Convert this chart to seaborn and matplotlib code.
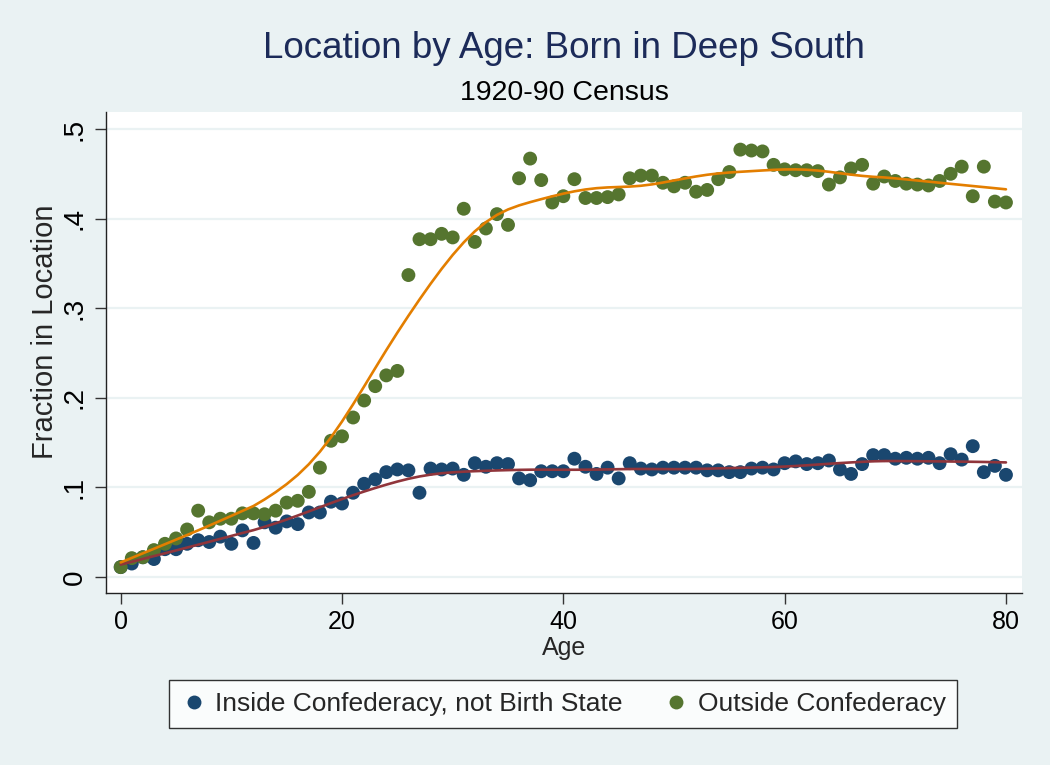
import numpy as np
import pandas as pd
import matplotlib
matplotlib.use("Agg")
import matplotlib.pyplot as plt
import seaborn as sns

ages = list(range(0, 81))
inside_conf = [0.011, 0.015, 0.022, 0.020, 0.031, 0.031, 0.037, 0.041, 0.039, 0.045,
               0.037, 0.052, 0.038, 0.061, 0.055, 0.062, 0.059, 0.072, 0.072, 0.084,
               0.082, 0.094, 0.104, 0.109, 0.117, 0.120, 0.119, 0.094, 0.121, 0.120,
               0.121, 0.114, 0.127, 0.123, 0.127, 0.126, 0.110, 0.108, 0.118, 0.118,
               0.118, 0.132, 0.123, 0.115, 0.122, 0.110, 0.127, 0.121, 0.120, 0.122,
               0.122, 0.122, 0.122, 0.119, 0.119, 0.117, 0.117, 0.121, 0.122, 0.120,
               0.127, 0.129, 0.126, 0.127, 0.130, 0.120, 0.115, 0.126, 0.136, 0.136,
               0.132, 0.133, 0.132, 0.133, 0.127, 0.137, 0.131, 0.146, 0.117, 0.124,
               0.114]
outside_conf = [0.011, 0.021, 0.022, 0.030, 0.037, 0.043, 0.053, 0.074, 0.061, 0.065,
                0.065, 0.071, 0.071, 0.070, 0.074, 0.083, 0.085, 0.095, 0.122, 0.152,
                0.157, 0.178, 0.197, 0.213, 0.225, 0.230, 0.337, 0.377, 0.377, 0.383,
                0.379, 0.411, 0.374, 0.389, 0.405, 0.393, 0.445, 0.467, 0.443, 0.418,
                0.425, 0.444, 0.423, 0.423, 0.424, 0.427, 0.445, 0.448, 0.448, 0.440,
                0.436, 0.440, 0.430, 0.432, 0.444, 0.452, 0.477, 0.476, 0.475, 0.460,
                0.455, 0.454, 0.454, 0.453, 0.438, 0.446, 0.456, 0.460, 0.439, 0.447,
                0.442, 0.439, 0.438, 0.437, 0.442, 0.450, 0.458, 0.425, 0.458, 0.419,
                0.418]
series_names = ["Inside Confederacy, not Birth State", "Outside Confederacy"]
x_ticks = [0, 20, 40, 60, 80]
y_ticks = [0, 0.1, 0.2, 0.3, 0.4, 0.5]
y_ticklabels = ["0", ".1", ".2", ".3", ".4", ".5"]

NAVY = "#1A476F"
MAROON = "#90353B"
GREEN = "#55752F"
ORANGE = "#E37E00"
BG = "#EAF2F3"


def lowess(x, y, frac=0.3):
    x = np.asarray(x, float)
    y = np.asarray(y, float)
    n = len(x)
    k = max(int(np.floor(frac * n)), 3)
    out = np.empty(n)
    for i in range(n):
        d = np.abs(x - x[i])
        h = np.sort(d)[k] * 1.0001
        w = np.clip(1 - (d / h) ** 3, 0, None) ** 3
        W = w.sum()
        xm = (w * x).sum() / W
        ym = (w * y).sum() / W
        sxx = (w * (x - xm) ** 2).sum()
        b = (w * (x - xm) * (y - ym)).sum() / sxx if sxx > 0 else 0
        out[i] = ym + b * (x[i] - xm)
    return out


pts = pd.DataFrame({
    "Age": ages * 2,
    "Fraction": inside_conf + outside_conf,
    "Series": [series_names[0]] * len(ages) + [series_names[1]] * len(ages),
})
fits = pd.DataFrame({
    "Age": ages * 2,
    "Fit": list(lowess(ages, inside_conf)) + list(lowess(ages, outside_conf)),
    "Series": [series_names[0]] * len(ages) + [series_names[1]] * len(ages),
})

sns.set_theme(style="white")
plt.rcParams["font.family"] = ["Liberation Sans", "DejaVu Sans"]

fig = plt.figure(figsize=(10.5, 7.65), dpi=100, facecolor=BG)
ax = fig.add_axes([106 / 1050, 1 - 593 / 765, (1022 - 106) / 1050, (593 - 112) / 765])
ax.set_facecolor("white")

sns.scatterplot(data=pts, x="Age", y="Fraction", hue="Series",
                palette=[NAVY, GREEN], s=100, linewidth=0, ax=ax, zorder=3, legend=True)
sns.lineplot(data=fits, x="Age", y="Fit", hue="Series",
             palette=[MAROON, ORANGE], linewidth=1.9, ax=ax, zorder=4, legend=False)

ax.set_xlim(-1.33, 81.45)
ax.set_ylim(-0.0179, 0.519)
ax.set_xticks(x_ticks)
ax.set_xticklabels([str(t) for t in x_ticks])
ax.set_yticks(y_ticks)
ax.set_yticklabels(y_ticklabels, rotation=90, va="center")
ax.grid(axis="y", color=BG, linewidth=1.6)
ax.grid(axis="x", visible=False)
ax.set_axisbelow(True)
for side in ["top", "right"]:
    ax.spines[side].set_visible(False)
for side in ["left", "bottom"]:
    ax.spines[side].set_color("#222222")
    ax.spines[side].set_linewidth(1.0)
ax.tick_params(axis="x", which="major", direction="out", length=8, width=1,
               color="#333333", labelsize=18, labelcolor="black", pad=4, bottom=True)
ax.tick_params(axis="y", which="major", direction="out", length=8, width=1,
               color="#333333", labelsize=20, labelcolor="black", pad=5, left=True)
ax.set_xlabel("Age", fontsize=18, labelpad=2)
ax.set_ylabel("Fraction in Location", fontsize=21)
ax.yaxis.set_label_coords(-0.051, 0.543)

handles, labels = ax.get_legend_handles_labels()
ax.get_legend().remove()
leg = fig.legend(handles, labels, loc="center", bbox_to_anchor=(563 / 1050, 1 - 704 / 765),
                 ncol=2, frameon=True, fancybox=False, fontsize=19, markerscale=1.0,
                 handletextpad=0.3, columnspacing=1.55, borderpad=0.45, handlelength=1.0)
leg.get_frame().set_edgecolor("black")
leg.get_frame().set_linewidth(1.0)
leg.get_frame().set_facecolor("white")

fig.text(564 / 1050, 1 - 48 / 765, "Location by Age: Born in Deep South",
         ha="center", va="center", fontsize=26.5, color="#1C2B59")
fig.text(564 / 1050, 1 - 93 / 765, "1920-90 Census",
         ha="center", va="center", fontsize=20.5, color="black")

fig.savefig("out.png", dpi=100, facecolor=BG)
